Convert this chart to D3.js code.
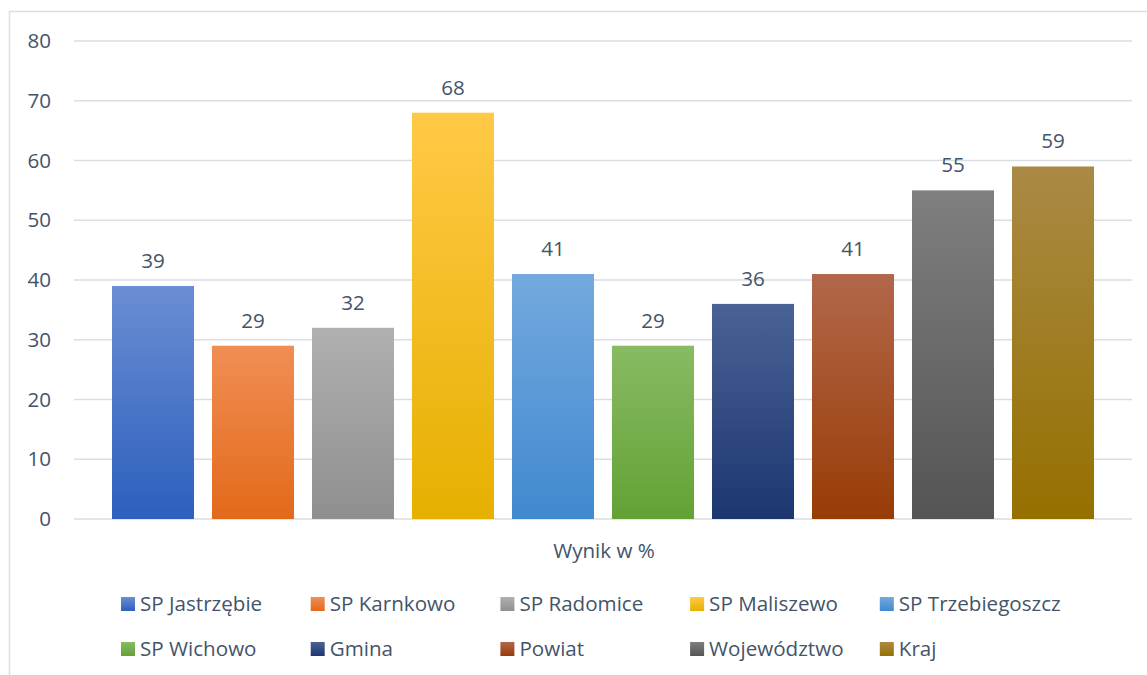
<!DOCTYPE html>
<html>
<head>
<meta charset="utf-8">
<script src="https://cdn.jsdelivr.net/npm/d3@7"></script>
<style>
  body { margin: 0; background: #fff; }
  text { font-family: "Open Sans", "Noto Sans", sans-serif; fill: #44546a; }
</style>
</head>
<body>
<svg id="chart" width="1147" height="675"></svg>
<script>
// data
var categories = ["SP Jastrzębie", "SP Karnkowo", "SP Radomice", "SP Maliszewo", "SP Trzebiegoszcz",
  "SP Wichowo", "Gmina", "Powiat", "Województwo", "Kraj"];
var values = [39, 29, 32, 68, 41, 29, 36, 41, 55, 59];
var yTicks = [0, 10, 20, 30, 40, 50, 60, 70, 80];
// light (top) / dark (bottom) of each bar gradient
var topColors = ["#6a8ed3", "#f08e55", "#b0b0b0", "#ffc947", "#74a9de", "#88bb63", "#4a6396", "#b2674a", "#7f7f7f", "#aa8a45"];
var bottomColors = ["#2d5fbd", "#e3691a", "#8f8f8f", "#e6b000", "#4089cf", "#63a135", "#1c3670", "#983c06", "#545454", "#957000"];

var svg = d3.select("#chart");
var margin = { left: 74, right: 15, top: 41, bottom: 156 };
var width = 1147, height = 675;
var fontSize = 20.6;

// chart border
svg.append("rect")
  .attr("x", 9.5).attr("y", 11.5)
  .attr("width", 1150).attr("height", 700)
  .attr("fill", "none")
  .attr("stroke", "#d9dee6")
  .attr("stroke-width", 1.5);

var x = d3.scaleBand()
  .domain(categories)
  .range([margin.left, width - margin.right])
  .paddingInner(0.18)
  .paddingOuter(0.38);

var y = d3.scaleLinear()
  .domain([0, 80])
  .range([height - margin.bottom, margin.top]);

var defs = svg.append("defs");
categories.forEach(function(c, i) {
  var g = defs.append("linearGradient")
    .attr("id", "grad" + i)
    .attr("x1", 0).attr("y1", 0).attr("x2", 0).attr("y2", 1);
  g.append("stop").attr("offset", "0%").attr("stop-color", topColors[i]);
  g.append("stop").attr("offset", "100%").attr("stop-color", bottomColors[i]);
});

// gridlines
svg.append("g")
  .selectAll("line")
  .data(yTicks)
  .join("line")
  .attr("x1", margin.left).attr("x2", width - margin.right)
  .attr("y1", function(d) { return y(d); })
  .attr("y2", function(d) { return y(d); })
  .attr("stroke", "#d9dde4")
  .attr("stroke-width", 1.5);

// y axis labels
var yAxis = svg.append("g")
  .attr("transform", "translate(" + (margin.left - 23) + ",0)")
  .call(d3.axisLeft(y).tickValues(yTicks).tickSize(0).tickPadding(0));
yAxis.select(".domain").remove();
yAxis.selectAll("text")
  .attr("font-size", fontSize)
  .attr("fill", "#44546a");
yAxis.attr("font-family", null).attr("font-size", null);

// bars
svg.append("g")
  .selectAll("rect")
  .data(values)
  .join("rect")
  .attr("x", function(d, i) { return x(categories[i]); })
  .attr("width", x.bandwidth())
  .attr("y", function(d) { return y(d); })
  .attr("height", function(d) { return y(0) - y(d); })
  .attr("fill", function(d, i) { return "url(#grad" + i + ")"; });

// value labels
svg.append("g")
  .selectAll("text")
  .data(values)
  .join("text")
  .attr("x", function(d, i) { return x(categories[i]) + x.bandwidth() / 2; })
  .attr("y", function(d) { return y(d) - 18; })
  .attr("text-anchor", "middle")
  .attr("font-size", fontSize)
  .text(function(d) { return d; });

// axis title
svg.append("text")
  .attr("x", (margin.left + width - margin.right) / 2 + 1)
  .attr("y", 558)
  .attr("text-anchor", "middle")
  .attr("font-size", fontSize)
  .text("Wynik w %");

// legend: 5 columns, 2 rows
var legendX = 121, legendStep = 189.7;
var legendRows = [611, 656];
var legend = svg.append("g")
  .selectAll("g")
  .data(categories)
  .join("g")
  .attr("transform", function(d, i) {
    return "translate(" + (legendX + legendStep * (i % 5)) + "," + legendRows[Math.floor(i / 5)] + ")";
  });
legend.append("rect")
  .attr("x", 0).attr("y", -14)
  .attr("width", 14).attr("height", 14)
  .attr("fill", function(d, i) { return "url(#grad" + i + ")"; });
legend.append("text")
  .attr("x", 19)
  .attr("y", 0)
  .attr("font-size", fontSize)
  .text(function(d) { return d; });
</script>
</body>
</html>
